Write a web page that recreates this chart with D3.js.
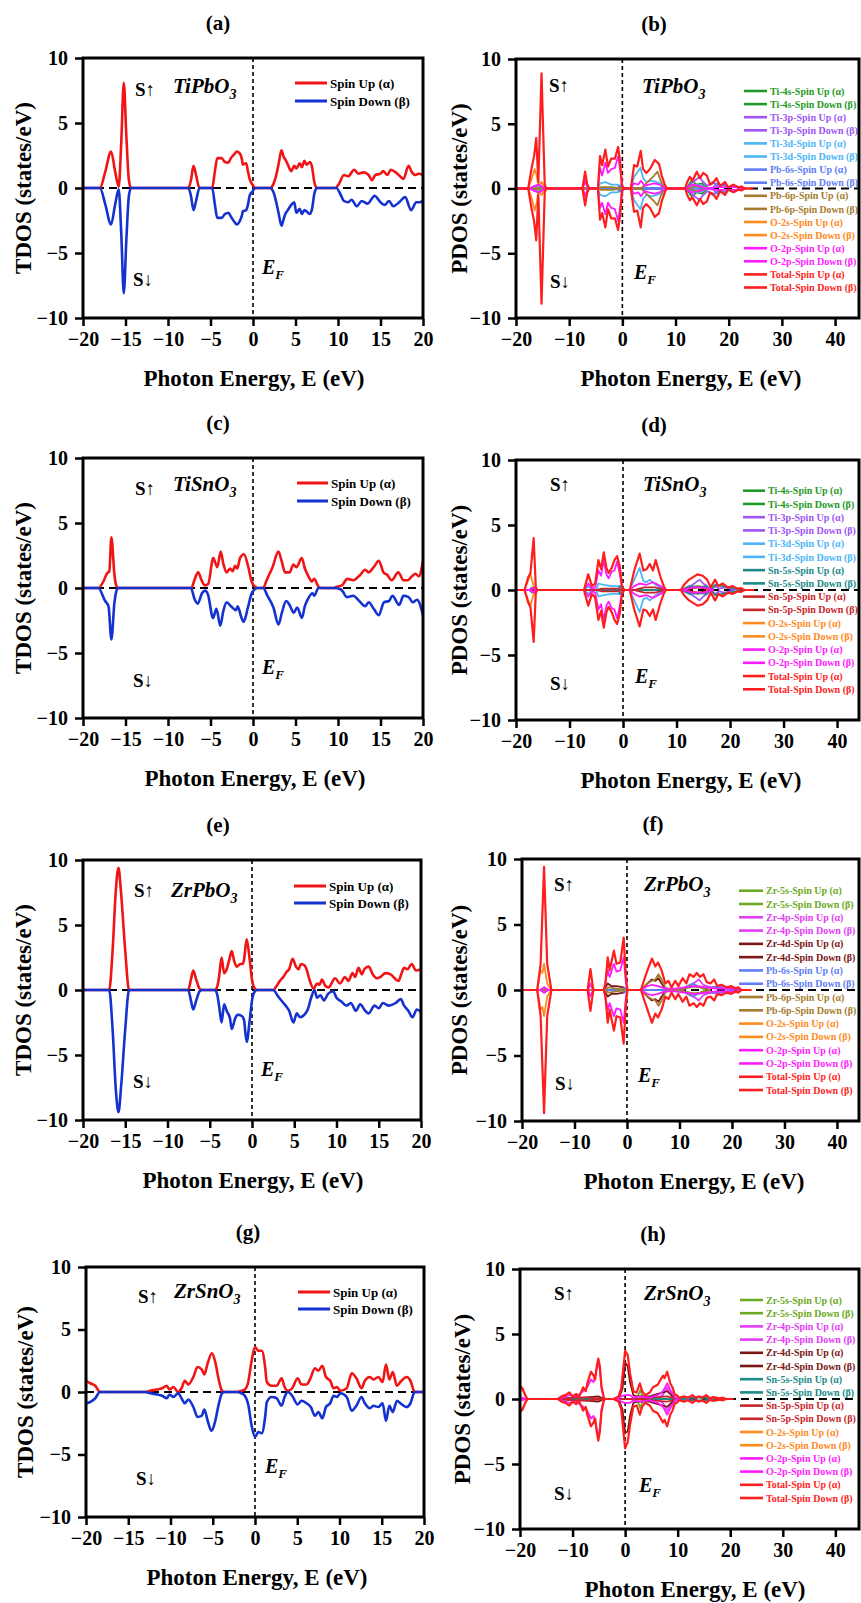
<!DOCTYPE html>
<html><head><meta charset="utf-8">
<script src="https://cdn.jsdelivr.net/npm/d3@7"></script>
<style>
body{margin:0;background:#fff}
svg{display:block}
text{font-family:"Liberation Serif","Times New Roman",serif;font-weight:bold}
</style>
</head><body><svg id="c" width="861" height="1603"></svg>
<script>
// ---------------- DATA ----------------
const tdosTicksX = [-20,-15,-10,-5,0,5,10,15,20];
const pdosTicksX = [-20,-10,0,10,20,30,40];
const ticksY = [-10,-5,0,5,10];
const panelLetters = ["(a)","(b)","(c)","(d)","(e)","(f)","(g)","(h)"];
const compounds = ["TiPbO","TiPbO","TiSnO","TiSnO","ZrPbO","ZrPbO","ZrSnO","ZrSnO"];
const tdosLegend = ["Spin Up (α)","Spin Down (β)"];
const xTitle = "Photon Energy, E (eV)";
const yTitles = ["TDOS (states/eV)","PDOS (states/eV)"];

// TDOS  [E, value]
const aUp = [[-20,0],[-18.0,0],[-17.4,1.2],[-16.7,2.8],[-16.2,1.2],[-15.8,0.1],[-15.5,3.5],[-15.2,8.1],[-14.9,4.0],[-14.6,0.6],[-14.35,0],[-7.6,0],[-7.3,0.6],[-7.0,1.7],[-6.7,1.0],[-6.3,0],[-4.8,0],[-4.5,1.2],[-4.2,2.3],[-3.7,2.3],[-3.3,2.0],[-2.9,1.95],[-2.6,2.3],[-2.2,2.6],[-1.9,2.8],[-1.6,2.7],[-1.3,2.2],[-1.2,1.8],[-0.8,1.9],[-0.6,1.3],[-0.4,0.7],[-0.1,0.3],[0.3,0],[2.0,0],[2.4,0.3],[2.7,0.9],[3.0,1.8],[3.35,2.9],[3.6,2.4],[3.8,2.2],[4.1,1.8],[4.5,1.3],[4.85,1.7],[5.1,1.5],[5.5,1.9],[5.75,1.6],[6.05,2.1],[6.3,1.8],[6.7,2.0],[6.95,1.6],[7.2,0.5],[7.5,0],[9.7,0],[10.1,0.3],[10.7,1.0],[11.2,0.9],[11.9,1.4],[12.4,1.1],[13.0,1.2],[13.6,1.0],[14.0,0.6],[14.4,1.0],[15.0,1.1],[15.3,1.3],[15.8,1.0],[16.2,1.4],[16.8,1.2],[17.3,0.9],[17.7,0.7],[18.3,1.7],[18.7,1.2],[19.1,1.0],[19.5,1.1],[20,1.0]];
const aDown = [[-20,0],[-18.0,0],[-17.4,-1.2],[-16.7,-2.8],[-16.2,-1.2],[-15.8,-0.1],[-15.5,-3.5],[-15.2,-8.1],[-14.9,-4.0],[-14.6,-0.6],[-14.35,0],[-7.6,0],[-7.3,-0.6],[-7.0,-1.7],[-6.7,-1.0],[-6.3,0],[-4.8,0],[-4.5,-1.2],[-4.2,-2.3],[-3.7,-2.3],[-3.3,-2.0],[-2.9,-1.9],[-2.6,-2.2],[-2.2,-2.6],[-1.9,-2.8],[-1.6,-2.6],[-1.3,-2.1],[-1.2,-1.8],[-0.8,-1.7],[-0.6,-1.3],[-0.4,-0.6],[-0.1,-0.3],[0.3,0],[2.0,0],[2.4,-0.3],[2.7,-1.0],[3.0,-1.9],[3.35,-2.9],[3.6,-2.4],[3.8,-2.0],[4.1,-1.7],[4.5,-1.3],[4.85,-1.1],[5.1,-1.9],[5.5,-1.6],[5.75,-2.0],[6.05,-1.7],[6.3,-1.8],[6.7,-2.0],[6.95,-1.6],[7.2,-0.5],[7.5,0],[9.8,0],[10.3,-0.5],[10.7,-1.0],[11.2,-1.1],[11.6,-0.9],[12.2,-1.4],[12.8,-1.0],[13.5,-1.2],[14.0,-0.8],[14.3,-0.6],[15.0,-1.1],[15.5,-1.3],[16.0,-1.0],[16.5,-1.4],[17.2,-1.1],[17.9,-0.7],[18.6,-1.7],[19.2,-1.1],[19.6,-1.1],[20,-1.0]];
const cUp = [[-20,0],[-18.2,0],[-17.6,0.5],[-17.2,1.1],[-16.9,1.3],[-16.66,3.9],[-16.3,1.0],[-16.1,0.2],[-15.9,0],[-7.25,0],[-6.9,0.6],[-6.45,1.2],[-6.05,0.6],[-5.66,0.2],[-5.27,0.3],[-4.68,2.3],[-4.2,1.6],[-3.8,2.8],[-3.5,1.9],[-3.1,1.2],[-2.7,1.5],[-2.4,1.3],[-2.1,1.7],[-1.85,1.5],[-1.53,2.3],[-1.06,2.6],[-0.55,1.6],[-0.16,0.5],[0.24,0.1],[0.6,0],[1.2,0],[1.6,0.6],[2.3,1.6],[2.99,2.8],[3.4,2.0],[3.77,1.2],[4.3,1.2],[4.75,1.8],[5.1,1.6],[5.74,2.3],[6.1,1.5],[6.52,0.9],[6.9,0.5],[7.2,0.7],[7.7,0.1],[8.0,0],[9.5,0],[9.9,0.1],[10.45,0.2],[11.1,0.7],[11.8,0.6],[12.6,1.0],[13.2,1.4],[13.6,1.2],[14.2,1.6],[14.8,2.1],[15.36,1.2],[15.8,1.0],[16.3,0.6],[17.1,1.2],[17.7,0.6],[18.2,0.6],[18.7,0.9],[19.1,1.1],[19.5,0.9],[20,2.1]];
const cDown = [[-20,0],[-18.2,0],[-17.4,-1.0],[-17.0,-1.4],[-16.66,-3.95],[-16.3,-1.1],[-16.1,-0.3],[-15.9,0],[-7.3,0],[-6.9,-0.8],[-6.5,-1.2],[-6.0,-0.4],[-5.6,-0.2],[-5.3,-0.5],[-4.7,-2.3],[-4.3,-1.6],[-3.85,-2.9],[-3.5,-1.8],[-3.1,-1.1],[-2.6,-1.4],[-2.0,-1.7],[-1.8,-1.4],[-1.4,-2.2],[-1.1,-2.6],[-0.6,-1.5],[-0.2,-0.5],[0.2,-0.1],[0.6,0],[1.2,0],[1.7,-0.6],[2.4,-1.5],[3.0,-2.8],[3.4,-1.9],[3.9,-1.0],[4.3,-1.3],[4.8,-1.9],[5.2,-1.5],[5.75,-2.3],[6.1,-1.4],[6.5,-0.8],[7.0,-0.4],[7.2,-0.6],[7.7,0],[9.5,0],[10.3,-0.1],[10.6,-0.3],[11.0,-0.7],[11.8,-0.6],[12.5,-1.0],[13.2,-1.4],[13.6,-1.1],[14.2,-1.6],[14.8,-2.1],[15.4,-1.1],[16.0,-1.0],[16.4,-0.6],[17.2,-1.3],[17.7,-0.6],[18.3,-0.7],[18.8,-1.1],[19.3,-0.9],[20,-2.1]];
const eUp = [[-20,0],[-16.9,0],[-16.5,3.0],[-16.1,7.8],[-15.8,9.4],[-15.5,7.5],[-15.0,3.0],[-14.55,0],[-7.55,0],[-7.2,0.9],[-6.95,1.5],[-6.6,0.8],[-6.2,0.1],[-5.9,0],[-4.4,0],[-4.1,0.3],[-3.9,1.0],[-3.6,2.5],[-3.3,1.3],[-3.0,1.6],[-2.7,2.3],[-2.4,3.0],[-2.1,2.2],[-1.8,1.8],[-1.4,2.0],[-1.1,2.0],[-0.95,2.3],[-0.63,3.9],[-0.3,2.5],[0,0.8],[0.35,0.1],[0.6,0],[2.53,0],[2.9,0.3],[3.3,0.7],[3.7,1.0],[4.1,1.4],[4.4,1.6],[4.8,2.4],[5.2,1.8],[5.5,1.6],[5.8,2.0],[6.2,1.9],[6.5,1.5],[6.8,0.8],[7.3,0.1],[7.7,0.5],[8.0,0.4],[8.26,0.8],[8.7,0.3],[9.05,0.2],[9.84,0.9],[10.4,0.5],[11.0,1.0],[11.4,0.7],[11.9,1.3],[12.2,1.0],[12.6,1.7],[13.0,1.2],[13.3,1.6],[13.8,1.8],[14.3,1.2],[14.8,0.9],[15.2,1.0],[15.8,1.3],[16.4,1.2],[17.35,0.7],[17.6,1.1],[18.0,1.7],[18.4,1.6],[18.9,2.0],[19.4,1.5],[20,1.6]];
const eDown = [[-20,0],[-16.9,0],[-16.5,-3.0],[-16.1,-7.8],[-15.8,-9.4],[-15.5,-7.5],[-15.0,-3.0],[-14.55,0],[-7.55,0],[-7.2,-0.9],[-6.95,-1.5],[-6.6,-0.8],[-6.2,-0.1],[-5.9,0],[-4.4,0],[-4.1,-0.4],[-3.9,-1.2],[-3.6,-2.5],[-3.3,-1.1],[-3.0,-1.6],[-2.6,-2.2],[-2.4,-3.0],[-2.0,-2.2],[-1.7,-1.9],[-1.2,-2.0],[-0.95,-2.3],[-0.63,-4.0],[-0.3,-2.5],[0,-0.8],[0.35,-0.1],[0.6,0],[2.5,0],[3.1,-0.5],[3.6,-0.9],[4.1,-1.3],[4.4,-1.6],[4.9,-2.5],[5.3,-1.8],[5.7,-2.1],[6.2,-1.9],[6.6,-1.5],[7.0,-0.6],[7.4,0],[7.7,-0.6],[8.1,-0.4],[8.5,-0.8],[9.0,-0.3],[9.6,-0.1],[10.0,-0.6],[10.6,-0.9],[11.2,-1.2],[11.7,-1.0],[12.3,-1.6],[12.8,-1.1],[13.4,-1.6],[13.8,-1.8],[14.5,-1.2],[15.0,-1.4],[15.5,-1.0],[16.2,-1.2],[17.0,-1.0],[17.6,-0.7],[18.0,-1.2],[18.5,-1.6],[19.0,-2.1],[19.5,-1.5],[20,-1.7]];
const gUp = [[-20,0.9],[-19.5,0.7],[-18.9,0.5],[-18.35,0],[-13,0],[-12.4,0.1],[-11.6,0.2],[-11.0,0.3],[-10.45,0.5],[-10.1,0.2],[-9.66,0.4],[-9.1,0.0],[-8.7,0.3],[-8.3,0.9],[-7.9,0.6],[-7.3,1.2],[-6.8,2.0],[-6.3,1.8],[-6.0,1.4],[-5.6,2.3],[-5.1,3.1],[-4.7,2.4],[-4.3,1.0],[-3.9,0.1],[-3.6,0],[-2.2,0],[-1.6,0.1],[-1.2,0.2],[-0.8,0.8],[-0.4,2.5],[0,3.6],[0.4,3.3],[0.8,3.3],[1.2,2.0],[1.4,0.8],[1.97,0.5],[2.56,0.5],[3.15,1.1],[3.5,0.4],[3.9,0.1],[4.4,0.3],[5.05,1.1],[5.5,0.6],[6.1,0.6],[6.5,1.0],[7.1,1.9],[7.5,1.7],[7.97,2.1],[8.4,1.2],[8.9,0.9],[9.3,0.3],[9.7,0.4],[10.1,0.1],[10.85,0.3],[11.45,1.5],[12.0,1.1],[12.6,0.3],[13.0,0.9],[13.6,1.2],[14.0,1.0],[14.6,1.2],[15.1,0.8],[15.5,2.2],[15.9,1.0],[16.3,1.6],[16.8,0.5],[17.2,0.8],[17.95,1.2],[18.4,0.9],[18.9,0],[20,0]];
const gDown = [[-20,-0.9],[-19.5,-0.8],[-18.9,-0.5],[-18.35,0],[-13,0],[-12.4,-0.1],[-11.6,-0.2],[-11.0,-0.3],[-10.45,-0.5],[-10.1,-0.2],[-9.66,-0.4],[-9.1,-0.1],[-8.7,-0.5],[-8.3,-0.9],[-7.9,-0.6],[-7.3,-1.2],[-6.8,-2.0],[-6.3,-1.9],[-6.0,-1.4],[-5.6,-2.3],[-5.15,-3.1],[-4.7,-2.3],[-4.3,-1.0],[-3.9,-0.1],[-3.6,0],[-2.2,0],[-1.6,-0.1],[-1.2,-0.3],[-0.8,-1.0],[-0.4,-2.7],[0,-3.6],[0.4,-3.2],[0.8,-3.3],[1.2,-2.0],[1.4,-0.8],[1.97,-0.4],[2.56,-0.5],[3.15,-1.1],[3.5,-0.4],[3.9,0],[4.4,-0.3],[5.05,-1.0],[5.5,-0.7],[6.1,-0.9],[6.6,-1.2],[7.1,-1.9],[7.5,-1.6],[7.97,-2.1],[8.4,-1.2],[8.9,-0.9],[9.3,-0.3],[9.7,-0.4],[10.1,-0.1],[10.85,-0.4],[11.45,-1.5],[12.0,-1.1],[12.6,-0.4],[13.0,-0.9],[13.6,-1.3],[14.0,-1.1],[14.6,-1.2],[15.1,-0.9],[15.5,-2.3],[15.9,-1.1],[16.3,-1.6],[16.8,-0.7],[17.2,-0.9],[17.95,-1.2],[18.4,-0.9],[18.9,0],[20,0]];

// PDOS  [E, spin up, spin down]
const bTi4s = [[-20,0,0],[12,0,0],[13,0.6,-0.6],[14,0.3,-0.3],[15,0.4,-0.4],[16,0,0]];
const bTi3p = [[-20,0,0],[-16.8,0,0],[-16.2,0.15,-0.15],[-15.5,0,0],[12,0,0],[13,0.4,-0.4],[14.5,0.9,-0.9],[15.2,0.5,-0.5],[16,0.2,-0.2],[17,0.5,-0.5],[18,0.2,-0.2],[19,0.3,-0.3],[20,0.1,-0.1],[21,0.2,-0.2],[22,0,0]];
const bTi3d = [[-20,0,0],[-4.6,0,0],[-4.2,0.4,-0.5],[-3.2,0.5,-0.6],[-2.1,0.3,-0.3],[-1.0,0.3,-0.3],[-0.3,0.2,-0.2],[0.2,0,0],[1.6,0,0],[2.2,0.9,-0.9],[3.4,1.6,-1.6],[3.9,0.8,-0.8],[4.5,0.5,-0.5],[5.5,0.6,-0.6],[6.5,0.5,-0.5],[7.5,0.3,-0.3],[8.2,0,0],[12,0,0],[13,0.2,-0.2],[14,0.3,-0.3],[15,0.2,-0.2],[16,0,0]];
const bPb6s = [[-20,0,0],[-17,0,0],[-16.5,0.2,-0.2],[-15.5,0.2,-0.2],[-15,0,0],[-1,0,0],[-0.5,0.2,-0.2],[0,0,0],[17,0,0],[17.7,0.4,-0.4],[18.5,0.2,-0.2],[19.3,0.3,-0.3],[20,0.1,-0.1],[21,0.2,-0.2],[22,0,0]];
const bPb6p = [[-20,0,0],[-4.6,0,0],[-4.0,0.1,-0.1],[-2,0.1,-0.1],[0,0,0],[3.5,0,0],[4.0,0.2,-0.2],[5.0,0.6,-0.6],[6.0,1.0,-1.0],[6.6,1.3,-1.3],[7.2,0.6,-0.6],[7.8,0.1,-0.1],[8.2,0,0],[12,0,0],[14,0.2,-0.2],[16,0,0]];
const bO2s = [[-20,0,0],[-17.7,0,0],[-17.0,0.8,-0.8],[-16.5,1.5,-1.7],[-16.1,1.0,-1.1],[-15.8,0.2,-0.2],[-15.2,0.5,-0.5],[-14.6,0.1,-0.1],[-14.3,0,0]];
const bO2p = [[-20,0,0],[-17.5,0,0],[-16.5,0.2,-0.2],[-15.8,0.3,-0.3],[-15.2,0.2,-0.2],[-14.6,0,0],[-7.4,0,0],[-7.0,0.6,-0.6],[-6.5,0,0],[-4.6,0,0],[-4.2,1.6,-1.5],[-3.8,1.0,-1.1],[-3.2,2.0,-2.0],[-2.7,1.2,-1.1],[-2.1,1.5,-1.5],[-1.4,1.6,-1.6],[-0.8,2.5,-2.5],[-0.4,1.4,-1.4],[0.1,0,0],[1.6,0,0],[2.2,0.4,-0.4],[3.0,0.3,-0.3],[3.5,0.6,-0.6],[4.2,0.2,-0.2],[5.0,0.3,-0.3],[6.0,0.4,-0.4],[7.0,0.3,-0.3],[8.0,0,0],[12,0,0],[13,0.3,-0.3],[14.5,0.2,-0.2],[16,0,0],[17.5,0.1,-0.1],[19.5,0.1,-0.1],[21.5,0.1,-0.1],[23,0,0]];
const bTotal = [[-20,0,0],[-17.7,0,0],[-17.1,1.5,-1.5],[-16.6,2.5,-2.5],[-16.2,3.9,-4.0],[-15.8,0.5,-0.5],[-15.2,8.9,-8.9],[-14.6,0.3,-0.3],[-14.3,0,0],[-7.5,0,0],[-7.0,1.3,-1.3],[-6.6,0.3,-0.3],[-6.2,0,0],[-4.6,0,0],[-4.2,2.5,-2.4],[-3.8,1.8,-1.9],[-3.2,3.0,-3.0],[-2.7,1.7,-1.6],[-2.1,2.3,-2.3],[-1.4,2.3,-2.3],[-0.8,3.2,-3.2],[-0.4,2.0,-2.0],[-0.1,0.2,-0.2],[0.3,0,0],[1.6,0,0],[2.2,1.8,-1.8],[2.8,1.7,-1.7],[3.45,2.9,-3.0],[3.9,1.5,-1.5],[4.5,1.2,-1.2],[5.2,1.5,-1.5],[6.1,2.2,-2.2],[6.9,1.9,-1.9],[7.4,1.0,-1.0],[7.9,0.4,-0.4],[8.3,0,0],[11.8,0,0],[12.2,0.5,-0.5],[12.7,0.9,-0.9],[13.2,0.6,-0.7],[14.0,1.3,-1.3],[14.6,0.8,-0.8],[15.2,1.2,-1.2],[15.9,1.0,-1.0],[16.5,0.3,-0.3],[17.0,0.4,-0.4],[17.7,0.8,-0.8],[18.4,0.2,-0.2],[19.3,0.5,-0.5],[19.9,0.1,-0.1],[20.9,0.3,-0.3],[21.8,0.1,-0.1],[22.4,0.15,-0.15],[23,0,0],[24.6,0,0]];

const dTi4s = [[-20,0,0],[11,0,0],[12,0.2,-0.2],[14,0.3,-0.3],[15.5,0.2,-0.2],[16.4,0,0]];
const dTi3p = [[-20,0,0],[11,0,0],[12,0.2,-0.2],[13,0.4,-0.4],[14.3,0.8,-0.8],[15.0,0.5,-0.5],[15.7,0.3,-0.3],[16.4,0,0],[17.2,0.3,-0.3],[18,0.1,-0.1],[19,0.2,-0.2],[20,0.1,-0.1],[21,0,0]];
const dTi3d = [[-20,0,0],[-7.3,0,0],[-6.5,0.3,-0.3],[-5.8,0,0],[-5.0,0,0],[-4.6,0.5,-0.5],[-3.6,0.4,-0.4],[-2.1,0.3,-0.3],[-0.6,0.3,-0.3],[0,0,0],[1.25,0,0],[2.1,0.8,-0.8],[3.1,1.7,-1.7],[3.8,0.7,-0.7],[4.4,0.6,-0.6],[5.0,0.8,-0.8],[6.1,0.4,-0.4],[7.0,0.2,-0.2],[8.0,0,0]];
const dSn5s = [[-20,0,0],[-17.5,0,0],[-17,0.2,-0.2],[-16.3,0,0],[-1,0,0],[-0.5,0.3,-0.3],[0,0,0],[11,0,0],[12.5,0.3,-0.3],[14,0.2,-0.2],[15.5,0.3,-0.3],[16.4,0,0],[17.2,0.4,-0.4],[18.6,0.3,-0.3],[20,0.2,-0.2],[21,0.1,-0.1],[22,0,0]];
const dSn5p = [[-20,0,0],[-5,0,0],[-4,0.1,-0.1],[-1,0.1,-0.1],[0,0,0],[2,0,0],[4,0.2,-0.2],[6,0.2,-0.2],[8,0,0],[11,0,0],[14,0.2,-0.2],[17,0,0]];
const dO2s = [[-20,0,0],[-18.4,0,0],[-17.7,0.8,-0.8],[-17.3,1.2,-1.2],[-16.9,0.6,-0.6],[-16.7,0.3,-0.3],[-16.2,0,0]];
const dO2p = [[-20,0,0],[-17.5,0,0],[-16.7,0.2,-0.2],[-16.2,0,0],[-7.3,0,0],[-6.5,0.5,-0.5],[-5.8,0.1,-0.1],[-5.2,0.2,-0.2],[-4.6,1.5,-1.5],[-4.1,1.1,-1.1],[-3.6,2.3,-2.3],[-3.1,1.2,-1.2],[-2.7,0.9,-0.9],[-2.1,1.4,-1.4],[-1.6,1.5,-1.5],[-1.1,2.2,-2.2],[-0.6,1.2,-1.2],[-0.2,0.2,-0.2],[0.25,0,0],[1.25,0,0],[2.1,0.3,-0.3],[3.1,0.5,-0.5],[4.4,0.4,-0.4],[5.5,0.6,-0.6],[6.1,0.5,-0.5],[7.0,0.3,-0.3],[8.0,0,0],[11,0,0],[13,0.2,-0.2],[15,0.2,-0.2],[17,0,0]];
const dTotal = [[-20,0,0],[-18.4,0,0],[-17.7,1.0,-1.0],[-17.3,1.3,-1.3],[-16.7,4.0,-4.0],[-16.3,0.2,-0.2],[-16.0,0,0],[-7.3,0,0],[-6.5,1.2,-1.2],[-5.8,0.3,-0.3],[-5.2,0.5,-0.6],[-4.6,2.3,-2.3],[-4.1,1.6,-1.6],[-3.6,2.9,-2.9],[-3.1,1.7,-1.7],[-2.7,1.3,-1.3],[-2.1,1.7,-1.7],[-1.6,2.3,-2.3],[-1.1,2.6,-2.6],[-0.6,1.8,-1.8],[-0.2,0.3,-0.3],[0.25,0,0],[1.25,0,0],[2.1,1.5,-1.5],[3.1,2.8,-2.8],[3.8,1.5,-1.5],[4.4,1.6,-1.6],[5.0,2.0,-2.0],[5.6,1.5,-1.5],[6.1,2.3,-2.3],[7.0,1.0,-1.0],[7.6,0.3,-0.3],[8.0,0,0],[10.8,0,0],[11.4,0.4,-0.4],[12.35,0.8,-0.8],[13.9,1.2,-1.2],[14.9,1.1,-1.1],[15.7,0.8,-0.8],[16.4,0.2,-0.2],[17.2,0.8,-0.8],[17.8,0.3,-0.3],[18.6,0.5,-0.5],[19.6,0.2,-0.2],[20.5,0.3,-0.3],[21.4,0.1,-0.1],[22,0.15,-0.15],[22.7,0,0],[24.5,0,0]];

const fZr5s = [[-20,0,0],[10,0,0],[12,0.2,-0.2],[13,0.3,-0.3],[14,0.2,-0.2],[15,0,0]];
const fZr4p = [[-20,0,0],[-16.5,0,0],[-15.8,0.2,-0.2],[-15,0,0],[10,0,0],[12,0.3,-0.3],[13.7,0.8,-0.8],[14.5,0.4,-0.4],[16,0.2,-0.2],[17.5,0.3,-0.3],[19,0.1,-0.1],[20.5,0.2,-0.2],[22,0,0]];
const fZr4d = [[-20,0,0],[-4.4,0,0],[-3.67,0.5,-0.5],[-3.0,0.3,-0.3],[-2.0,0.3,-0.3],[-0.63,0.2,-0.2],[0,0,0],[2.66,0,0],[3.9,0.5,-0.5],[4.75,0.8,-0.8],[5.4,0.7,-0.7],[6.0,0.9,-0.9],[6.6,0.5,-0.5],[7.3,0.1,-0.1],[8,0,0]];
const fPb6s = [[-20,0,0],[-1,0,0],[-0.5,0.2,-0.2],[0,0,0],[10,0,0],[11.5,0.3,-0.3],[12.5,0.5,-0.5],[13.5,0.3,-0.3],[15,0.2,-0.2],[17,0.2,-0.2],[19,0.1,-0.1],[21,0,0]];
const fPb6p = [[-20,0,0],[-4.4,0,0],[-3.5,0.2,-0.2],[-2,0.1,-0.1],[0,0,0],[2.66,0,0],[3.9,0.5,-0.5],[4.75,0.7,-0.7],[5.4,0.8,-0.8],[6.0,1.2,-1.2],[6.6,0.8,-0.8],[7.3,0.2,-0.2],[8,0,0],[10,0,0],[12,0.3,-0.3],[14,0.2,-0.2],[16,0,0]];
const fO2s = [[-20,0,0],[-17.1,0,0],[-16.45,1.5,-1.5],[-16.1,1.3,-1.3],[-15.8,2.0,-2.0],[-15.2,0.5,-0.5],[-14.4,0,0]];
const fO2p = [[-20,0,0],[-16.5,0,0],[-15.8,0.2,-0.2],[-15,0,0],[-7.4,0,0],[-6.96,0.5,-0.5],[-6.5,0,0],[-4.4,0,0],[-3.67,1.5,-1.5],[-3.3,1.0,-1.0],[-2.5,2.0,-2.0],[-2.0,1.4,-1.4],[-1.27,1.5,-1.5],[-0.63,2.5,-2.5],[-0.2,0.5,-0.5],[0.1,0,0],[2.66,0,0],[3.9,0.3,-0.3],[4.75,0.4,-0.4],[5.9,0.3,-0.3],[7.3,0.1,-0.1],[9,0.1,-0.1],[11,0.2,-0.2],[13,0.3,-0.3],[15,0.2,-0.2],[17,0.1,-0.1],[19,0.1,-0.1],[21,0.1,-0.1],[22,0,0]];
const fTotal = [[-20,0,0],[-17.1,0,0],[-16.45,2.0,-2.0],[-15.8,9.4,-9.4],[-15.2,2.0,-2.0],[-14.4,0,0],[-7.5,0,0],[-6.96,1.6,-1.6],[-6.45,0.1,-0.1],[-6.2,0,0],[-4.4,0,0],[-4.1,0.5,-0.5],[-3.67,2.5,-2.5],[-3.3,1.5,-1.5],[-2.5,3.0,-3.1],[-2.0,2.0,-2.0],[-1.27,2.1,-2.1],[-0.63,4.0,-4.1],[-0.2,1.0,-1.0],[0.1,0,0],[2.66,0,0],[3.3,0.8,-0.8],[3.9,1.5,-1.5],[4.75,2.4,-2.5],[5.4,1.8,-1.8],[5.9,2.1,-2.1],[6.6,1.5,-1.5],[7.3,0.5,-0.5],[7.9,0.7,-0.7],[8.5,0.2,-0.2],[9.2,0.7,-0.7],[9.8,0.3,-0.3],[10.6,0.9,-0.9],[11.3,0.5,-0.5],[11.9,1.2,-1.2],[12.7,1.0,-1.0],[13.3,1.3,-1.3],[13.9,1.0,-1.0],[14.55,1.2,-1.2],[15.2,0.6,-0.6],[15.9,0.5,-0.5],[16.6,0.8,-0.8],[17.2,0.3,-0.3],[18.0,0.4,-0.4],[19.0,0.2,-0.2],[19.9,0.3,-0.3],[20.6,0.1,-0.1],[21.2,0.2,-0.2],[21.8,0,0],[23.7,0,0]];

const hZr5s = [[-20,0,0],[1.56,0,0],[2.4,0.2,-0.2],[2.9,0.7,-0.7],[3.3,0.2,-0.2],[4,0,0]];
const hZr4p = [[-20,0,0],[-19.5,0.1,-0.1],[-18.8,0,0],[-12,0,0],[-10,0.1,-0.1],[-8,0.1,-0.1],[-6,0,0],[6,0,0],[7.2,0.3,-0.3],[8.0,0.9,-0.9],[8.6,0.5,-0.5],[9.5,0,0],[11,0.1,-0.1],[13,0.1,-0.1],[15.45,0.2,-0.2],[17,0,0]];
const hZr4d = [[-20,0,0],[-12.8,0,0],[-8,0.1,-0.1],[-5.1,0.2,-0.2],[-4,0,0],[-1.25,0,0],[-0.5,0.8,-0.8],[0,2.8,-2.6],[0.5,2.5,-2.5],[0.93,1.3,-1.3],[1.56,0.3,-0.3],[2.2,0.2,-0.2],[4.7,0.2,-0.2],[6.2,0.4,-0.4],[7.2,0.5,-0.5],[8.0,0.6,-0.6],[9.0,0.2,-0.2],[10,0,0]];
const hSn5s = [[-20,0,0],[-12,0,0],[-10,0.05,-0.05],[-8,0,0],[10,0,0],[12,0.1,-0.1],[15,0.1,-0.1],[17,0,0]];
const hSn5p = [[-20,0,0],[-12,0,0],[-10,0.1,-0.1],[-7,0.1,-0.1],[-4,0,0],[2,0,0],[5,0.1,-0.1],[8,0.2,-0.2],[10,0,0]];
const hO2s = [[-20,0.9,-0.9],[-19.5,0.7,-0.7],[-19.0,0.3,-0.3],[-18.6,0,0]];
const hO2p = [[-20,0,0],[-12.8,0,0],[-11.4,0.2,-0.2],[-10.6,0.3,-0.3],[-9.3,0.2,-0.2],[-8.0,0.6,-0.6],[-7.2,0.9,-0.9],[-6.5,1.5,-1.5],[-6.0,1.3,-1.3],[-5.4,2.3,-2.3],[-5.1,3.0,-3.0],[-4.8,2.2,-2.2],[-4.5,0.8,-0.8],[-4.0,0,0],[-1.5,0,0],[-0.75,0.2,-0.2],[0,0.3,-0.3],[0.93,0.3,-0.3],[1.56,0.1,-0.1],[2.8,0.2,-0.2],[4.7,0.1,-0.1],[6.2,0.3,-0.3],[7.2,0.6,-0.6],[8.0,1.2,-1.2],[8.6,0.7,-0.7],[9.5,0.1,-0.1],[10.5,0,0]];
const hTotal = [[-20,1.0,-1.0],[-19.5,0.8,-0.8],[-19.0,0.3,-0.3],[-18.6,0,0],[-12.8,0,0],[-12.1,0.2,-0.2],[-11.4,0.3,-0.3],[-10.6,0.5,-0.5],[-10.0,0.2,-0.2],[-9.3,0.4,-0.4],[-8.85,0.1,-0.1],[-8.5,0.4,-0.4],[-8.0,0.9,-0.9],[-7.5,0.6,-0.6],[-7.2,1.2,-1.2],[-6.5,2.1,-2.1],[-6.0,1.8,-1.8],[-5.7,1.5,-1.5],[-5.4,2.5,-2.5],[-5.1,3.1,-3.2],[-4.8,2.5,-2.5],[-4.5,1.0,-1.0],[-4.05,0.1,-0.1],[-3.8,0,0],[-2.2,0,0],[-1.25,0.2,-0.2],[-0.75,0.8,-0.8],[0,3.7,-3.8],[0.5,3.4,-3.3],[0.93,2.0,-2.0],[1.56,0.6,-0.6],[2.2,0.5,-0.5],[2.8,1.2,-1.2],[3.25,0.6,-0.6],[3.8,0.3,-0.3],[4.7,0.5,-0.5],[5.3,0.9,-0.9],[6.2,1.1,-1.1],[7.2,1.8,-1.8],[7.5,1.6,-1.6],[8.0,2.1,-2.1],[8.6,1.2,-1.2],[9.0,0.9,-0.9],[9.5,0.3,-0.3],[9.8,0.3,-0.3],[10.3,0.1,-0.1],[11.2,0.2,-0.2],[11.9,0.1,-0.1],[12.8,0.3,-0.3],[13.4,0.1,-0.1],[14.0,0.2,-0.2],[14.7,0.1,-0.1],[15.45,0.3,-0.3],[16.1,0.05,-0.05],[16.8,0.15,-0.15],[18.0,0.05,-0.05],[18.6,0.1,-0.1],[19.3,0,0],[20.6,0,0]];

const bOrbitals = ["Ti-4s","Ti-3p","Ti-3d","Pb-6s","Pb-6p","O-2s","O-2p","Total"];
const dOrbitals = ["Ti-4s","Ti-3p","Ti-3d","Sn-5s","Sn-5p","O-2s","O-2p","Total"];
const fOrbitals = ["Zr-5s","Zr-4p","Zr-4d","Pb-6s","Pb-6p","O-2s","O-2p","Total"];
const hOrbitals = ["Zr-5s","Zr-4p","Zr-4d","Sn-5s","Sn-5p","O-2s","O-2p","Total"];
const spinSuffix = ["-Spin Up (α)","-Spin Down (β)"];

// ---------------- STYLES ----------------
const orbitalColor = {"Ti-4s":"#1f9a26","Ti-3p":"#a055f5","Ti-3d":"#4cb6f7","Pb-6s":"#5f7df7","Pb-6p":"#a57c2e",
  "O-2s":"#ff8a1e","O-2p":"#ff1aff","Total":"#ff1e1e","Sn-5s":"#1d8a88","Sn-5p":"#c8242a",
  "Zr-5s":"#6caa24","Zr-4p":"#e33df5","Zr-4d":"#7a1616"};
const upColor = "#f01414", downColor = "#1432cf";
const FONT = '"Liberation Serif","Times New Roman",serif';

// ---------------- LAYOUT ----------------
const tdosPanels = [
  {L:0, up:aUp, down:aDown, x0:83, x1:423, y0:58, y1:318, lab:[218,30], comp:[173,93], su:[135,96], sd:[133,286], ef:[262,274], leg:[295,327,330,83,101], tx:254},
  {L:2, up:cUp, down:cDown, x0:83, x1:423, y0:458, y1:718, lab:[218,430], comp:[173,491], su:[135,495], sd:[133,687], ef:[262,674], leg:[297,328,331,483,501], tx:255},
  {L:4, up:eUp, down:eDown, x0:83, x1:421, y0:860, y1:1120, lab:[218,832], comp:[171,897], su:[134,897], sd:[133,1088], ef:[261,1076], leg:[294,326,329,886,903], tx:253},
  {L:6, up:gUp, down:gDown, x0:86, x1:424, y0:1267, y1:1517, lab:[248,1239], comp:[174,1298], su:[138,1303], sd:[136,1485], ef:[265,1473], leg:[298,330,333,1292,1309], tx:257}
];
const pdosPanels = [
  {L:1, orbs:bOrbitals, data:[bTi4s,bTi3p,bTi3d,bPb6s,bPb6p,bO2s,bO2p,bTotal], x0:516, x1:859, xmax:44.5, y0:59, y1:318, lab:[654,31], comp:[642,93], su:[549,92], sd:[550,288], ef:[634,279], leg:[744,767,770,91,13.1], tx:691},
  {L:3, orbs:dOrbitals, data:[dTi4s,dTi3p,dTi3d,dSn5s,dSn5p,dO2s,dO2p,dTotal], x0:516, x1:859, xmax:44.1, y0:460, y1:720, lab:[654,432], comp:[643,491], su:[550,491], sd:[550,690], ef:[635,683], leg:[743,765,768,490.7,13.24], tx:691},
  {L:5, orbs:fOrbitals, data:[fZr5s,fZr4p,fZr4d,fPb6s,fPb6p,fO2s,fO2p,fTotal], x0:522, x1:859, xmax:44.2, y0:859, y1:1121, lab:[653,831], comp:[644,891], su:[554,891], sd:[555,1090], ef:[638,1082], leg:[739,763,766,890.7,13.29], tx:694},
  {L:7, orbs:hOrbitals, data:[hZr5s,hZr4p,hZr4d,hSn5s,hSn5p,hO2s,hO2p,hTotal], x0:520, x1:859, xmax:44.5, y0:1269, y1:1529, lab:[653,1241], comp:[644,1300], su:[554,1300], sd:[554,1500], ef:[639,1492], leg:[740,763,766,1300,13.2], tx:695}
];

const svg = d3.select("#c");

function txt(g, x, y, s, size, opts={}) {
  return g.append("text").attr("x",x).attr("y",y).attr("font-size",size)
    .attr("font-family",FONT).attr("font-weight","bold")
    .attr("font-style",opts.italic?"italic":"normal")
    .attr("text-anchor",opts.anchor||"start").attr("fill",opts.fill||"#000").text(s);
}

function guides(g, p, x, y) {
  g.append("line").attr("x1",p.x0).attr("x2",p.x1).attr("y1",y(0)).attr("y2",y(0))
    .attr("stroke","#000").attr("stroke-width",2).attr("stroke-dasharray","8,5");
  g.append("line").attr("x1",x(0)).attr("x2",x(0)).attr("y1",p.y0).attr("y2",p.y1)
    .attr("stroke","#000").attr("stroke-width",1.6).attr("stroke-dasharray","4,3");
}
function finishAxes(g, p, x, y, xticks, ytitle, yTitleX) {
  g.append("rect").attr("x",p.x0).attr("y",p.y0).attr("width",p.x1-p.x0).attr("height",p.y1-p.y0)
    .attr("fill","none").attr("stroke","#000").attr("stroke-width",3);
  const style = s => {
    s.attr("font-family",FONT).attr("font-size",20).attr("font-weight","bold");
    s.select(".domain").remove();
    s.selectAll(".tick line").attr("stroke","#000").attr("stroke-width",2.5);
    s.selectAll(".tick text").attr("fill","#000");
  };
  g.append("g").attr("transform",`translate(0,${p.y1+1})`)
    .call(d3.axisBottom(x).tickValues(xticks).tickSize(7).tickPadding(6).tickFormat(d3.format("d"))).call(style);
  g.append("g").attr("transform",`translate(${p.x0-1},0)`)
    .call(d3.axisLeft(y).tickValues(ticksY).tickSize(7).tickPadding(7).tickFormat(d3.format("d"))).call(style);
  txt(g, p.tx, p.y1+68, xTitle, 23, {anchor:"middle"});
  g.append("text").attr("transform",`translate(${yTitleX},${(p.y0+p.y1)/2}) rotate(-90)`)
    .attr("dy","0.35em").attr("text-anchor","middle").attr("font-family",FONT).attr("font-weight","bold")
    .attr("font-size",23).text(ytitle);
  txt(g, p.lab[0], p.lab[1], panelLetters[p.L], 21, {anchor:"middle"});
  const c = txt(g, p.comp[0], p.comp[1], compounds[p.L], 21, {italic:true});
  c.append("tspan").attr("dy",6).attr("font-size",14).text("3");
  txt(g, p.su[0], p.su[1], "S↑", 19);
  txt(g, p.sd[0], p.sd[1], "S↓", 19);
  const e = txt(g, p.ef[0], p.ef[1], "E", 20, {italic:true});
  e.append("tspan").attr("dy",5).attr("font-size",13).text("F");
}

// ---------- TDOS ----------
tdosPanels.forEach(p => {
  const g = svg.append("g");
  const x = d3.scaleLinear().domain([-20,20]).range([p.x0,p.x1]);
  const y = d3.scaleLinear().domain([-10,10]).range([p.y1,p.y0]);
  guides(g,p,x,y);
  const line = d3.line().x(d=>x(d[0])).y(d=>y(d[1])).curve(d3.curveMonotoneX);
  g.append("path").datum(p.up).attr("d",line).attr("fill","none").attr("stroke",upColor).attr("stroke-width",2.6).attr("stroke-linejoin","round");
  g.append("path").datum(p.down).attr("d",line).attr("fill","none").attr("stroke",downColor).attr("stroke-width",2.6).attr("stroke-linejoin","round");
  const [lx0,lx1,tx,ly0,ly1] = p.leg;
  [[ly0,upColor],[ly1,downColor]].forEach(([ly,col],i)=>{
    g.append("line").attr("x1",lx0).attr("x2",lx1).attr("y1",ly).attr("y2",ly).attr("stroke",col).attr("stroke-width",3);
    txt(g, tx, ly+4.5, tdosLegend[i], 13);
  });
  finishAxes(g,p,x,y,tdosTicksX,yTitles[0],p.L===6?25:23);
});

// ---------- PDOS ----------
pdosPanels.forEach(p => {
  const g = svg.append("g");
  const x = d3.scaleLinear().domain([-20,p.xmax]).range([p.x0,p.x1]);
  const y = d3.scaleLinear().domain([-10,10]).range([p.y1,p.y0]);
  guides(g,p,x,y);
  p.data.forEach((arr,k)=>{
    const col = orbitalColor[p.orbs[k]];
    const isTot = p.orbs[k]==="Total";
    [1,2].forEach(s=>{
      const line = d3.line().x(d=>x(d[0])).y(d=>y(d[s]));
      g.append("path").datum(arr).attr("d",line).attr("fill","none").attr("stroke",col)
        .attr("stroke-width",isTot?2.2:1.8).attr("stroke-linejoin","round");
    });
  });
  const [lx0,lx1,tx,ly,step] = p.leg;
  let i = 0;
  p.orbs.forEach(o=>{
    spinSuffix.forEach(sfx=>{
      const yy = ly + step*i;
      g.append("line").attr("x1",lx0).attr("x2",lx1).attr("y1",yy).attr("y2",yy).attr("stroke",orbitalColor[o]).attr("stroke-width",2.6);
      const t = txt(g, tx, yy+3.6, o+sfx, 10, {fill:orbitalColor[o]});
      const w = t.node().getComputedTextLength();
      const maxW = 858 - tx;
      if (w > maxW) t.attr("textLength", maxW).attr("lengthAdjust","spacingAndGlyphs");
      i++;
    });
  });
  finishAxes(g,p,x,y,pdosTicksX,yTitles[1],p.L===7?462:459);
});
</script></body></html>
